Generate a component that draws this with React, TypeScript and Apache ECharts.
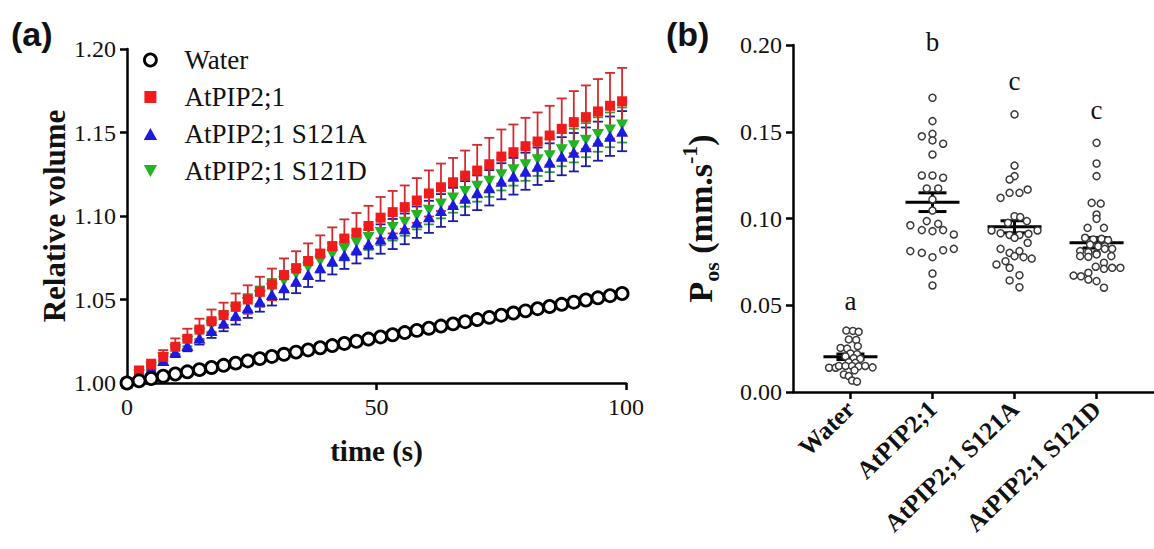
import React, { useEffect, useRef } from "react";
import * as echarts from "echarts";

const FONT = "'Liberation Serif', 'Times New Roman', serif";
const SANS = "'Liberation Sans', Arial, sans-serif";

// ---------- Panel (a) data ----------
const times = [0, 2.42, 4.84, 7.26, 9.68, 12.1, 14.52, 16.94, 19.36, 21.78, 24.2, 26.62, 29.04, 31.46, 33.88, 36.3, 38.72, 41.14, 43.56, 45.98, 48.4, 50.82, 53.24, 55.66, 58.08, 60.5, 62.92, 65.34, 67.76, 70.18, 72.6, 75.02, 77.44, 79.86, 82.28, 84.7, 87.12, 89.54, 91.96, 94.38, 96.8, 99.22];
const waterVol = [1.000, 1.0013, 1.0027, 1.0041, 1.0054, 1.0067, 1.0080, 1.0093, 1.0106, 1.0119, 1.0132, 1.0146, 1.0159, 1.0172, 1.0185, 1.0198, 1.0211, 1.0224, 1.0237, 1.0250, 1.0263, 1.0276, 1.0289, 1.0302, 1.0315, 1.0328, 1.0341, 1.0354, 1.0367, 1.0380, 1.0393, 1.0406, 1.0419, 1.0432, 1.0445, 1.0458, 1.0471, 1.0484, 1.0497, 1.0510, 1.0523, 1.0536];
const pipVol = [1.000, 1.0075, 1.011, 1.0157, 1.0217, 1.0265, 1.032, 1.037, 1.0406, 1.0456, 1.050, 1.0546, 1.059, 1.0646, 1.0686, 1.073, 1.0775, 1.082, 1.0865, 1.090, 1.094, 1.099, 1.1023, 1.1053, 1.1093, 1.1135, 1.1172, 1.1202, 1.1242, 1.1272, 1.131, 1.1356, 1.1382, 1.1418, 1.1446, 1.1482, 1.1522, 1.1562, 1.1592, 1.1626, 1.166, 1.1687];
const pipErr = [0, 0.002, 0.003, 0.004, 0.005, 0.006, 0.0065, 0.007, 0.0075, 0.008, 0.0085, 0.009, 0.0095, 0.010, 0.0103, 0.0106, 0.0109, 0.0112, 0.0115, 0.0118, 0.0121, 0.0124, 0.0127, 0.013, 0.0134, 0.0138, 0.0142, 0.0146, 0.015, 0.0154, 0.0158, 0.0162, 0.0166, 0.017, 0.0174, 0.0178, 0.0182, 0.0186, 0.019, 0.0194, 0.0197, 0.020];
const s121aVol = [1.000, 1.004, 1.0085, 1.0135, 1.0185, 1.0225, 1.027, 1.0315, 1.036, 1.0405, 1.045, 1.049, 1.053, 1.057, 1.061, 1.065, 1.069, 1.073, 1.0765, 1.080, 1.0832, 1.0862, 1.0892, 1.0923, 1.0963, 1.0995, 1.1033, 1.1069, 1.1107, 1.1139, 1.1169, 1.1208, 1.1238, 1.1268, 1.1298, 1.1322, 1.1358, 1.1382, 1.1414, 1.1448, 1.1478, 1.1508];
const s121aErr = [0, 0.0015, 0.002, 0.0025, 0.003, 0.0035, 0.004, 0.0045, 0.005, 0.0055, 0.006, 0.0063, 0.0066, 0.0069, 0.0072, 0.0075, 0.0078, 0.008, 0.0082, 0.0084, 0.0086, 0.0088, 0.009, 0.0092, 0.0094, 0.0096, 0.0098, 0.010, 0.0102, 0.0104, 0.0106, 0.0108, 0.011, 0.0111, 0.0112, 0.0113, 0.0114, 0.0115, 0.0116, 0.0117, 0.0118, 0.012];
const s121dVol = [1.000, 1.005, 1.0095, 1.015, 1.020, 1.025, 1.0298, 1.0345, 1.039, 1.0437, 1.0482, 1.0525, 1.0567, 1.061, 1.065, 1.069, 1.073, 1.077, 1.0805, 1.084, 1.0872, 1.0902, 1.0932, 1.0963, 1.1003, 1.1035, 1.1073, 1.1109, 1.1147, 1.1179, 1.1209, 1.1248, 1.1278, 1.1308, 1.1338, 1.1362, 1.1398, 1.1422, 1.1454, 1.1488, 1.1516, 1.1545];
const s121dErr = [0, 0.0013, 0.0018, 0.0022, 0.0026, 0.003, 0.0034, 0.0038, 0.0042, 0.0046, 0.005, 0.0053, 0.0056, 0.0059, 0.0062, 0.0065, 0.0067, 0.0069, 0.0071, 0.0073, 0.0075, 0.0077, 0.0079, 0.0081, 0.0083, 0.0085, 0.0087, 0.0089, 0.0091, 0.0093, 0.0094, 0.0095, 0.0096, 0.0097, 0.0098, 0.0099, 0.010, 0.0101, 0.0102, 0.0103, 0.0104, 0.0105];

// ---------- Panel (b) data ----------
const categories = ["Water", "AtPIP2;1", "AtPIP2;1 S121A", "AtPIP2;1 S121D"];
const waterPos = [0.0354, 0.0352, 0.0347, 0.0303, 0.0300, 0.0264, 0.0254, 0.0250, 0.0222, 0.0218, 0.0205, 0.0195, 0.0191, 0.0172, 0.0168, 0.0140, 0.0140, 0.0150, 0.0150, 0.0150, 0.0148, 0.0150, 0.0142, 0.0101, 0.0092, 0.0125, 0.0066, 0.0060];
const waterJit = [-0.05, 0.03, 0.10, -0.02, 0.07, 0.09, -0.12, -0.04, 0.0, 0.08, -0.06, 0.04, 0.12, -0.02, 0.06, -0.26, -0.18, -0.14, -0.06, 0.02, 0.10, 0.18, 0.27, -0.08, -0.02, 0.05, 0.02, 0.08];
const pipPos = [0.1696, 0.1561, 0.1474, 0.1488, 0.1450, 0.1431, 0.1369, 0.1248, 0.1248, 0.1235, 0.1173, 0.1173, 0.1110, 0.1046, 0.0985, 0.0969, 0.0961, 0.0933, 0.0927, 0.0933, 0.0908, 0.0812, 0.0802, 0.0777, 0.0817, 0.0825, 0.0683, 0.0614];
const pipJit = [0, 0, -0.13, 0, 0, 0.13, 0, -0.13, 0, 0.13, -0.07, 0.07, 0, 0, -0.07, 0.07, -0.27, -0.13, 0, 0.13, 0.26, -0.27, -0.13, 0, 0.13, 0.26, 0, 0];
const s121aPos = [0.160, 0.1305, 0.1244, 0.1225, 0.1167, 0.1148, 0.1148, 0.1119, 0.1013, 0.1008, 0.0985, 0.0975, 0.0931, 0.0931, 0.0915, 0.0912, 0.0905, 0.0905, 0.0889, 0.0860, 0.0825, 0.0812, 0.0802, 0.0783, 0.0777, 0.0769, 0.0754, 0.0735, 0.0716, 0.0673, 0.0643, 0.0604];
const s121aJit = [0, 0, 0, -0.06, 0.16, 0.06, -0.06, -0.17, 0, 0.07, 0.15, -0.08, -0.28, 0.28, -0.17, 0.17, -0.06, 0.06, 0.0, 0.16, -0.17, 0.06, -0.06, 0, 0.11, 0.21, -0.11, -0.22, -0.06, 0.06, -0.06, 0.06];
const s121dPos = [0.1436, 0.1317, 0.1244, 0.1090, 0.1086, 0.1023, 0.0998, 0.0946, 0.0946, 0.0889, 0.0879, 0.0883, 0.0875, 0.0850, 0.0840, 0.0840, 0.0812, 0.0806, 0.0798, 0.0825, 0.0825, 0.0783, 0.0779, 0.0793, 0.0783, 0.0722, 0.0745, 0.0710, 0.0716, 0.0716, 0.0671, 0.0667, 0.0687, 0.0648, 0.0639, 0.0601];
const s121dJit = [0, 0, 0, -0.06, 0.05, 0, 0, -0.11, 0.09, -0.14, -0.04, 0.06, 0.14, -0.08, 0.02, 0.10, -0.2, -0.1, 0, 0.1, 0.19, -0.2, -0.1, 0, 0.18, -0.01, 0.09, 0.09, 0.19, 0.29, -0.28, -0.19, -0.1, -0.1, 0, 0.09];
const groupMeans = [0.0203, 0.1094, 0.0952, 0.0860];
const groupSems = [0.0016, 0.0054, 0.0035, 0.0030];
const letters = ["a", "b", "c", "c"];
const letterY = [0.0525, 0.202, 0.179, 0.1625];

const RED = "#f01c1c";
const RED_BAR = "#d42a2e";
const BLUE = "#1a1ae0";
const BLUE_BAR = "#1c1ca6";
const GREEN = "#22b422";
const GREEN_BAR = "#30a030";

const errRender = (color: string) => (params: any, api: any) => {
  const x = api.value(0);
  const y = api.value(1);
  const e = api.value(2);
  if (!e) return null;
  const top = api.coord([x, y + e]);
  const bot = api.coord([x, y - e]);
  const hw = 5;
  const style = { stroke: color, lineWidth: 1.8 };
  return {
    type: "group",
    children: [
      { type: "line", shape: { x1: top[0], y1: top[1], x2: bot[0], y2: bot[1] }, style },
      { type: "line", shape: { x1: top[0] - hw, y1: top[1], x2: top[0] + hw, y2: top[1] }, style },
      { type: "line", shape: { x1: bot[0] - hw, y1: bot[1], x2: bot[0] + hw, y2: bot[1] }, style },
    ],
  };
};

const meanRender = (params: any, api: any) => {
  const x = api.value(0);
  const m = api.value(1);
  const s = api.value(2);
  const c = api.coord([x, m]);
  const t = api.coord([x, m + s]);
  const b = api.coord([x, m - s]);
  const style = { stroke: "#000", lineWidth: 3 };
  return {
    type: "group",
    children: [
      { type: "line", shape: { x1: c[0] - 27, y1: c[1], x2: c[0] + 27, y2: c[1] }, style },
      { type: "line", shape: { x1: c[0], y1: t[1], x2: c[0], y2: b[1] }, style },
      { type: "line", shape: { x1: c[0] - 14, y1: t[1], x2: c[0] + 14, y2: t[1] }, style },
      { type: "line", shape: { x1: c[0] - 14, y1: b[1], x2: c[0] + 14, y2: b[1] }, style },
    ],
  };
};

const letterRender = (params: any, api: any) => {
  const p = api.coord([api.value(0), api.value(1)]);
  return {
    type: "text",
    x: p[0],
    y: p[1],
    style: {
      text: letters[params.dataIndex],
      fill: "#111",
      fontSize: 27,
      fontFamily: FONT,
      align: "center",
      verticalAlign: "middle",
    },
  };
};

const axisLineStyle = { color: "#000", width: 2.5 };

export default function App() {
  const ref = useRef<HTMLDivElement>(null);
  useEffect(() => {
    if (!ref.current) return;
    const chart = echarts.init(ref.current, undefined, { renderer: "svg" });

    const groups = [
      [waterPos, waterJit],
      [pipPos, pipJit],
      [s121aPos, s121aJit],
      [s121dPos, s121dJit],
    ];
    const swarm: number[][] = [];
    groups.forEach(([vals, jit], gi) => {
      vals.forEach((v, i) => swarm.push([gi + 1 + jit[i], v]));
    });

    const option: any = {
      animation: false,
      backgroundColor: "#fff",
      graphic: [
        { type: "text", x: 11, y: 17, style: { text: "(a)", fontSize: 34, fontWeight: "bold", fontFamily: SANS, fill: "#111" } },
        { type: "text", x: 666, y: 17, style: { text: "(b)", fontSize: 34, fontWeight: "bold", fontFamily: SANS, fill: "#111" } },
      ],
      legend: {
        left: 138,
        top: 41,
        orient: "vertical",
        itemWidth: 14,
        itemHeight: 12,
        itemGap: 9,
        selectedMode: false,
        textStyle: { fontSize: 27, fontFamily: FONT, color: "#111", lineHeight: 28, padding: [0, 0, 0, 22] },
        data: [
          { name: "Water", icon: "circle", itemStyle: { color: "#fff", borderColor: "#000", borderWidth: 2.8 } },
          { name: "AtPIP2;1", icon: "path://M0,0H10V10H0Z", itemStyle: { color: RED, borderWidth: 0 } },
          { name: "AtPIP2;1 S121A", icon: "path://M5,0L10,9L0,9Z", itemStyle: { color: BLUE, borderWidth: 0 } },
          { name: "AtPIP2;1 S121D", icon: "path://M0,0L10,0L5,9Z", itemStyle: { color: GREEN, borderWidth: 0 } },
        ],
      },
      grid: [
        { left: 127, top: 49, width: 499, height: 334 },
        { left: 793, top: 45, right: 0, height: 347 },
      ],
      xAxis: [
        {
          gridIndex: 0,
          type: "value",
          min: 0,
          max: 100,
          interval: 50,
          axisLine: { show: true, onZero: false, lineStyle: axisLineStyle },
          axisTick: { show: true, length: 7, lineStyle: { width: 2.5, color: "#000" } },
          axisLabel: { fontSize: 24, fontFamily: FONT, color: "#111", margin: 12 },
          splitLine: { show: false },
          name: "time (s)",
          nameLocation: "middle",
          nameGap: 53,
          nameTextStyle: { fontSize: 29, fontWeight: "bold", fontFamily: FONT, color: "#111" },
        },
        {
          gridIndex: 1,
          type: "value",
          min: 0.3,
          max: 4.7,
          axisLine: { show: true, onZero: false, lineStyle: axisLineStyle },
          axisTick: { show: true, length: 7, customValues: [1, 2, 3, 4], lineStyle: { width: 2.5, color: "#000" } },
          axisLabel: {
            customValues: [1, 2, 3, 4],
            formatter: (v: number) => categories[Math.round(v) - 1],
            rotate: 44,
            fontSize: 25,
            fontWeight: "bold",
            fontFamily: FONT,
            color: "#111",
            margin: 13,
          },
          splitLine: { show: false },
        },
      ],
      yAxis: [
        {
          gridIndex: 0,
          type: "value",
          min: 1.0,
          max: 1.2,
          interval: 0.05,
          axisLine: { show: true, onZero: false, lineStyle: axisLineStyle },
          axisTick: { show: true, length: 7, lineStyle: { width: 2.5, color: "#000" } },
          axisLabel: { fontSize: 24, fontFamily: FONT, color: "#111", margin: 11, formatter: (v: number) => v.toFixed(2) },
          splitLine: { show: false },
          name: "Relative volume",
          nameLocation: "middle",
          nameRotate: 90,
          nameGap: 56,
          nameTextStyle: { fontSize: 31, fontWeight: "bold", fontFamily: FONT, color: "#111" },
        },
        {
          gridIndex: 1,
          type: "value",
          min: 0,
          max: 0.2,
          interval: 0.05,
          axisLine: { show: true, onZero: false, lineStyle: axisLineStyle },
          axisTick: { show: true, length: 7, lineStyle: { width: 2.5, color: "#000" } },
          axisLabel: { fontSize: 24, fontFamily: FONT, color: "#111", margin: 11, formatter: (v: number) => v.toFixed(2) },
          splitLine: { show: false },
          name: "{b|P}{s|os}{b| (mm.s}{p|-1}{b|)}",
          nameLocation: "middle",
          nameRotate: 90,
          nameGap: 71,
          nameTextStyle: {
            rich: {
              b: { fontSize: 34, fontWeight: "bold", fontFamily: FONT, color: "#111", lineHeight: 44 },
              s: { fontSize: 22, fontWeight: "bold", fontFamily: FONT, color: "#111", lineHeight: 22, verticalAlign: "bottom" },
              p: { fontSize: 22, fontWeight: "bold", fontFamily: FONT, color: "#111", lineHeight: 22, verticalAlign: "top" },
            },
          },
        },
      ],
      series: [
        {
          name: "gErr",
          type: "custom",
          xAxisIndex: 0,
          yAxisIndex: 0,
          clip: false,
          renderItem: errRender(GREEN_BAR),
          encode: { x: 0, y: 1 },
          data: times.map((t, i) => [t, s121dVol[i], s121dErr[i]]),
        },
        {
          name: "AtPIP2;1 S121D",
          type: "scatter",
          xAxisIndex: 0,
          yAxisIndex: 0,
          clip: false,
          symbol: "path://M0,0L10,0L5,9Z",
          symbolKeepAspect: true,
          symbolSize: 12,
          itemStyle: { color: GREEN, opacity: 1 },
          data: times.map((t, i) => [t, s121dVol[i]]),
        },
        {
          name: "bErr",
          type: "custom",
          xAxisIndex: 0,
          yAxisIndex: 0,
          clip: false,
          renderItem: errRender(BLUE_BAR),
          encode: { x: 0, y: 1 },
          data: times.map((t, i) => [t, s121aVol[i], s121aErr[i]]),
        },
        {
          name: "AtPIP2;1 S121A",
          type: "scatter",
          xAxisIndex: 0,
          yAxisIndex: 0,
          clip: false,
          symbol: "triangle",
          symbolSize: [12, 11],
          itemStyle: { color: BLUE, opacity: 1 },
          data: times.map((t, i) => [t, s121aVol[i]]),
        },
        {
          name: "rErr",
          type: "custom",
          xAxisIndex: 0,
          yAxisIndex: 0,
          clip: false,
          renderItem: errRender(RED_BAR),
          encode: { x: 0, y: 1 },
          data: times.map((t, i) => [t, pipVol[i], pipErr[i]]),
        },
        {
          name: "AtPIP2;1",
          type: "scatter",
          xAxisIndex: 0,
          yAxisIndex: 0,
          clip: false,
          symbol: "rect",
          symbolSize: 10,
          itemStyle: { color: RED, opacity: 1 },
          data: times.map((t, i) => [t, pipVol[i]]),
        },
        {
          name: "Water",
          type: "scatter",
          xAxisIndex: 0,
          yAxisIndex: 0,
          clip: false,
          symbol: "circle",
          symbolSize: 12,
          itemStyle: { color: "#fff", borderColor: "#000", borderWidth: 2.8, opacity: 1 },
          data: times.map((t, i) => [t, waterVol[i]]),
        },
        {
          name: "points",
          type: "scatter",
          xAxisIndex: 1,
          yAxisIndex: 1,
          clip: false,
          symbol: "circle",
          symbolSize: 7,
          itemStyle: { color: "#fff", borderColor: "#3a3a3a", borderWidth: 1.5, opacity: 1 },
          data: swarm,
        },
        {
          name: "meanSem",
          type: "custom",
          xAxisIndex: 1,
          yAxisIndex: 1,
          clip: false,
          renderItem: meanRender,
          encode: { x: 0, y: 1 },
          data: groupMeans.map((m, i) => [i + 1, m, groupSems[i]]),
        },
        {
          name: "letters",
          type: "custom",
          xAxisIndex: 1,
          yAxisIndex: 1,
          clip: false,
          renderItem: letterRender,
          encode: { x: 0, y: 1 },
          data: letters.map((l, i) => [i + 1, letterY[i]]),
        },
      ],
    };
    chart.setOption(option);
    return () => chart.dispose();
  }, []);

  return (
    <div
      ref={ref}
      style={{ position: "fixed", left: 0, top: 0, width: 1154, height: 549, background: "#fff" }}
    />
  );
}
